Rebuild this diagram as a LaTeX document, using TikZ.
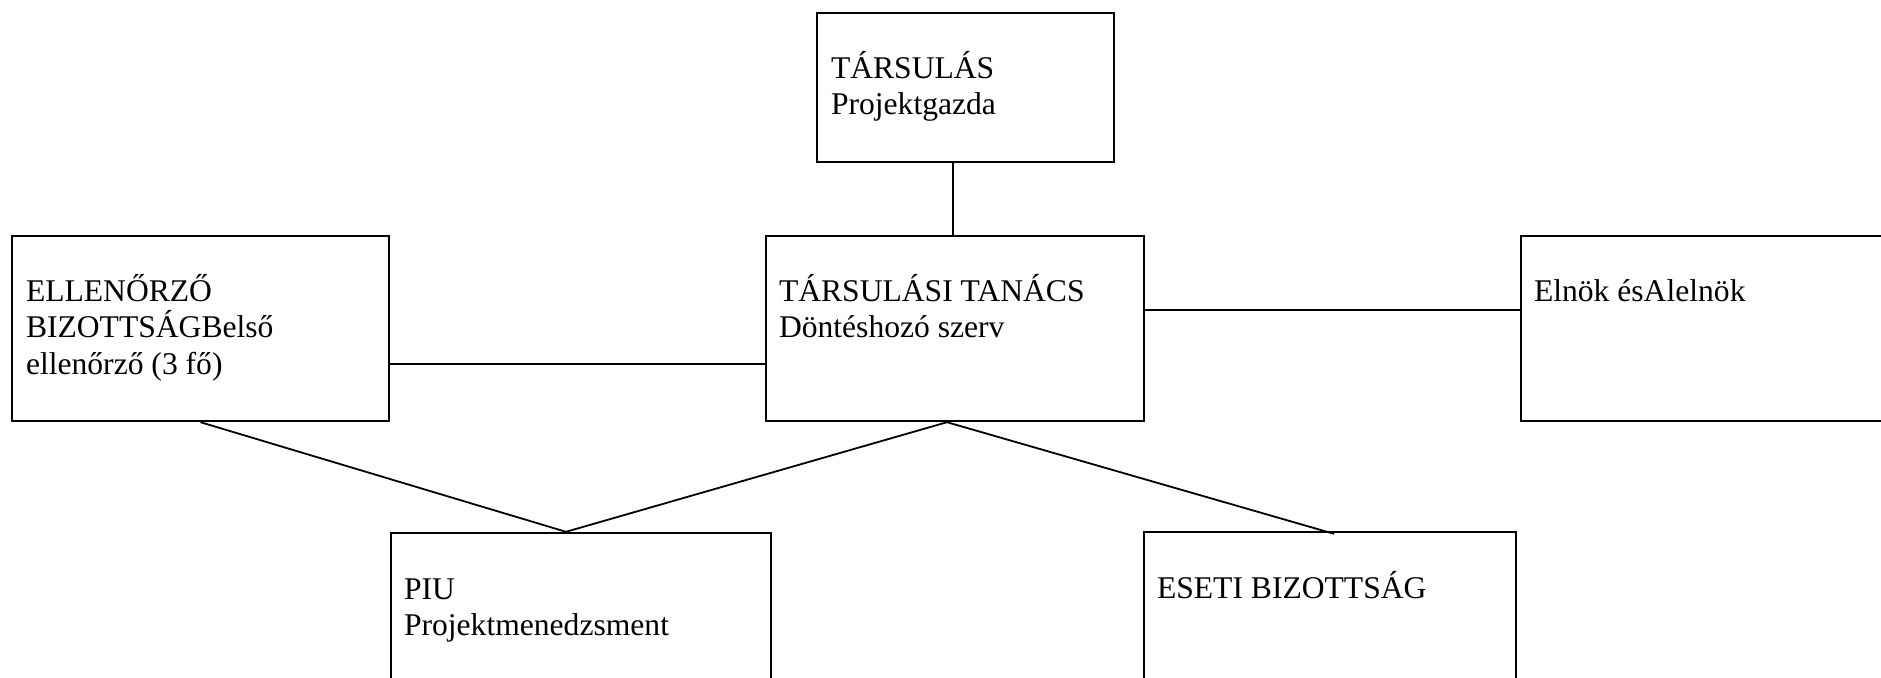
\documentclass[tikz,border=0pt]{standalone}
\usepackage{fontspec}
\setmainfont{Liberation Serif}
\usetikzlibrary{positioning}

\newcommand{\boxtop}{\rule{0pt}{30pt}}

\begin{document}
\begin{tikzpicture}[x=1pt,y=-1pt,
    box/.style={draw, rectangle, line width=2.4pt, inner sep=0pt},
    txt/.style={inner sep=0pt, align=left,
        font=\fontsize{31.6}{36.5}\selectfont},
    conn/.style={line width=1.8pt}]

\useasboundingbox (0,0) rectangle (1881,677);
\clip (0,0) rectangle (1881,677);

% Top box
\node [box,
    minimum width=297pt,
    minimum height=149pt] (tars) at (965.5,87.5){};
\node [txt, below right=36pt and 15pt of tars.north west] (tarsT) {\boxtop TÁRSULÁS\\Projektgazda};

% Council
\node [box,
    minimum width=378pt,
    minimum height=185pt] (tanacs) at (955,328.5){};
\node [txt, below right=36pt and 14pt of tanacs.north west] (tanacsT) {\boxtop TÁRSULÁSI TANÁCS\\Döntéshozó szerv};

% Supervisory board
\node [box,
    minimum width=377pt,
    minimum height=185pt] (ell) at (200.5,328.5){};
\node [txt, below right=36pt and 15pt of ell.north west] (ellT) {\boxtop ELLENŐRZŐ\\BIZOTTSÁGBelső\\ellenőrző (3 fő)};

% Chairman
\node [box,
    minimum width=378pt,
    minimum height=185pt] (elnok) at (1710,328.5){};
\node [txt, below right=36pt and 14pt of elnok.north west] (elnokT) {\boxtop Elnök ésAlelnök};

% PIU
\node [box,
    minimum width=380pt,
    minimum height=185pt] (piu) at (581,625.5){};
\node [txt, below right=37pt and 14pt of piu.north west] (piuT) {\boxtop PIU\\Projektmenedzsment};

% Ad hoc committee
\node [box,
    minimum width=372pt,
    minimum height=185pt] (eseti) at (1330,624.5){};
\node [txt, below right=37pt and 14pt of eseti.north west] (esetiT) {\boxtop ESETI BIZOTTSÁG};

% Connectors
\draw [conn] ([xshift=-2]tars.south -| tanacs.north) -- ([xshift=-2]tanacs.north);
\draw [conn] ([yshift=-35.5]ell.east) -- ([yshift=-35.5]tanacs.west);
\draw [conn] ([yshift=18.5]tanacs.east) -- ([yshift=18.5]elnok.west);
\draw [conn] (ell.south) -- ([xshift=-15]piu.north);
\draw [conn] ([xshift=-8]tanacs.south) -- ([xshift=-15]piu.north);
\draw [conn] ([xshift=-8]tanacs.south) -- ([xshift=4,yshift=-3]eseti.north);

\end{tikzpicture}
\end{document}
